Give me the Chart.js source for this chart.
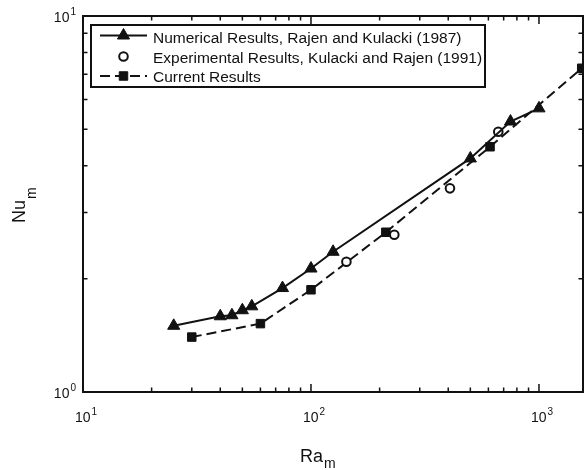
<!DOCTYPE html>
<html>
<head>
<meta charset="utf-8">
<script src="https://cdn.jsdelivr.net/npm/chart.js@4.4.0/dist/chart.umd.min.js"></script>
<style>
  html, body { margin: 0; padding: 0; background: #fff; }
  canvas { display: block; }
</style>
</head>
<body>
<canvas id="chart" width="584" height="470"></canvas>
<script>
// Mean Nusselt number against modified Rayleigh number (log-log)
const numericalRa    = [25, 40, 45, 50, 55, 75, 100, 125, 500, 750, 1000];
const numericalNu    = [1.50, 1.59, 1.60, 1.65, 1.69, 1.89, 2.13, 2.36, 4.18, 5.24, 5.68];
const experimentalRa = [143, 232, 407, 663];
const experimentalNu = [2.22, 2.62, 3.48, 4.92];
const currentRa      = [30, 60, 100, 213, 610, 1540];
const currentNu      = [1.40, 1.52, 1.87, 2.66, 4.49, 7.26];
const seriesNames = [
  'Numerical Results, Rajen and Kulacki (1987)',
  'Experimental Results, Kulacki and Rajen (1991)',
  'Current Results'
];
const xDecadeExponents = [1, 2, 3];
const yDecadeExponents = [0, 1];
const xRange = [10, 1560];
const yRange = [1, 10];

const ink = '#111';
const FONT = '"Liberation Sans", Arial, Helvetica, sans-serif';

const pairs = (xs, ys) => xs.map((x, i) => ({ x: x, y: ys[i] }));

// all 1..9 multiples of each decade inside [min, max]
function logTickValues(min, max) {
  const out = [];
  for (let e = Math.floor(Math.log10(min)); e <= Math.ceil(Math.log10(max)); e++) {
    for (let m = 1; m <= 9; m++) {
      const v = m * Math.pow(10, e);
      if (v >= min * 0.999 && v <= max * 1.001) out.push({ v: v, major: m === 1 });
    }
  }
  return out;
}

const styles = [
  { pointStyle: 'triangle', pointRadius: 7, fill: ink, stroke: ink, pointBorderWidth: 1, lineWidth: 2, dash: [], showLine: true },
  { pointStyle: 'circle',   pointRadius: 4.3, fill: '#fff', stroke: ink, pointBorderWidth: 2, lineWidth: 0, dash: [], showLine: false },
  { pointStyle: 'rect',     pointRadius: 6, fill: ink, stroke: ink, pointBorderWidth: 1, lineWidth: 2, dash: [10, 5], showLine: true }
];

const seriesData = [
  pairs(numericalRa, numericalNu),
  pairs(experimentalRa, experimentalNu),
  pairs(currentRa, currentNu)
];

const datasets = seriesData.map((d, i) => ({
  label: seriesNames[i],
  data: d,
  showLine: styles[i].showLine,
  borderColor: ink,
  borderWidth: styles[i].lineWidth,
  borderDash: styles[i].dash,
  backgroundColor: styles[i].fill,
  pointStyle: styles[i].pointStyle,
  pointRadius: styles[i].pointRadius,
  pointHoverRadius: styles[i].pointRadius,
  pointBackgroundColor: styles[i].fill,
  pointBorderColor: styles[i].stroke,
  pointBorderWidth: styles[i].pointBorderWidth,
  tension: 0,
  clip: false
}));

// "10" with a raised exponent
function powerLabel(ctx, exp, x, baseline, align) {
  ctx.font = '14px ' + FONT;
  const wBase = ctx.measureText('10').width;
  ctx.font = '10px ' + FONT;
  const wExp = ctx.measureText(String(exp)).width;
  const total = wBase + 1 + wExp;
  const x0 = align === 'right' ? x - total : x - total / 2;
  ctx.textAlign = 'left';
  ctx.textBaseline = 'alphabetic';
  ctx.font = '14px ' + FONT;
  ctx.fillText('10', x0, baseline);
  ctx.font = '10px ' + FONT;
  ctx.fillText(String(exp), x0 + wBase + 1, baseline - 7);
}

const decorations = {
  id: 'decorations',
  afterDraw(chart) {
    const ctx = chart.ctx;
    const { left, right, top, bottom } = chart.chartArea;
    const xs = chart.scales.x, ys = chart.scales.y;
    ctx.save();
    ctx.strokeStyle = ink;
    ctx.fillStyle = ink;
    ctx.lineWidth = 1.5;
    ctx.setLineDash([]);

    // inward tick marks on all four sides
    ctx.beginPath();
    for (const t of logTickValues(xRange[0], xRange[1])) {
      const px = xs.getPixelForValue(t.v);
      const len = t.major ? 8 : 4.5;
      ctx.moveTo(px, bottom); ctx.lineTo(px, bottom - len);
      ctx.moveTo(px, top); ctx.lineTo(px, top + len);
    }
    for (const t of logTickValues(yRange[0], yRange[1])) {
      const py = ys.getPixelForValue(t.v);
      const len = t.major ? 8 : 4.5;
      ctx.moveTo(left, py); ctx.lineTo(left + len, py);
      ctx.moveTo(right, py); ctx.lineTo(right - len, py);
    }
    ctx.stroke();

    // decade labels
    for (const e of xDecadeExponents) {
      const px = xs.getPixelForValue(Math.pow(10, e));
      powerLabel(ctx, e, px + 3, bottom + 29.5, 'center');
    }
    for (const e of yDecadeExponents) {
      const py = ys.getPixelForValue(Math.pow(10, e));
      powerLabel(ctx, e, left - 7, py + 5.5, 'right');
    }

    // axis titles
    ctx.textAlign = 'left';
    ctx.textBaseline = 'alphabetic';
    ctx.font = '18px ' + FONT;
    ctx.fillText('Ra', 300, 461.5);
    const wRa = ctx.measureText('Ra').width;
    ctx.font = '14px ' + FONT;
    ctx.fillText('m', 300 + wRa + 1, 467.5);

    ctx.save();
    ctx.translate(25, 223);
    ctx.rotate(-Math.PI / 2);
    ctx.font = '18px ' + FONT;
    ctx.fillText('Nu', 0, 0);
    const wNu = ctx.measureText('Nu').width;
    ctx.font = '14px ' + FONT;
    ctx.fillText('m', wNu + 1, 11);
    ctx.restore();

    // legend box
    const bx = 91, by = 25, bw = 394, bh = 62;
    ctx.fillStyle = '#fff';
    ctx.fillRect(bx, by, bw, bh);
    ctx.lineWidth = 2;
    ctx.strokeStyle = ink;
    ctx.strokeRect(bx, by, bw, bh);

    const rowsY = [35.5, 56.5, 76];
    const baselines = [43, 63, 82];
    for (let i = 0; i < 3; i++) {
      const y = rowsY[i];
      if (styles[i].showLine) {
        ctx.save();
        ctx.lineWidth = styles[i].lineWidth;
        ctx.strokeStyle = ink;
        ctx.setLineDash(styles[i].dash);
        ctx.beginPath();
        ctx.moveTo(100, y); ctx.lineTo(147, y);
        ctx.stroke();
        ctx.restore();
      }
      ctx.save();
      ctx.fillStyle = styles[i].fill;
      ctx.strokeStyle = styles[i].stroke;
      ctx.lineWidth = styles[i].pointBorderWidth;
      Chart.helpers.drawPoint(ctx, {
        pointStyle: styles[i].pointStyle, radius: styles[i].pointRadius,
        rotation: 0, borderWidth: styles[i].pointBorderWidth
      }, 123.5, y);
      ctx.restore();
      ctx.fillStyle = ink;
      ctx.font = '15.5px ' + FONT;
      ctx.textAlign = 'left';
      ctx.textBaseline = 'alphabetic';
      ctx.fillText(seriesNames[i], 153, baselines[i]);
    }
    ctx.restore();
  }
};

const frameAxis = (position, size) => ({
  type: 'logarithmic',
  position: position,
  min: position === 'left' || position === 'right' ? yRange[0] : xRange[0],
  max: position === 'left' || position === 'right' ? yRange[1] : xRange[1],
  grid: { display: true, drawOnChartArea: false, drawTicks: false },
  border: { display: true, color: ink, width: 2 },
  ticks: { display: false },
  afterFit(scale) {
    if (position === 'left' || position === 'right') scale.width = size;
    else scale.height = size;
  }
});

new Chart(document.getElementById('chart'), {
  type: 'scatter',
  data: { datasets: datasets },
  options: {
    responsive: false,
    animation: false,
    devicePixelRatio: 1,
    layout: { padding: 0, autoPadding: false },
    plugins: { legend: { display: false }, tooltip: { enabled: false } },
    scales: {
      x: frameAxis('bottom', 78),
      y: frameAxis('left', 83),
      x2: frameAxis('top', 16),
      y2: frameAxis('right', 1)
    }
  },
  plugins: [decorations]
});
</script>
</body>
</html>
